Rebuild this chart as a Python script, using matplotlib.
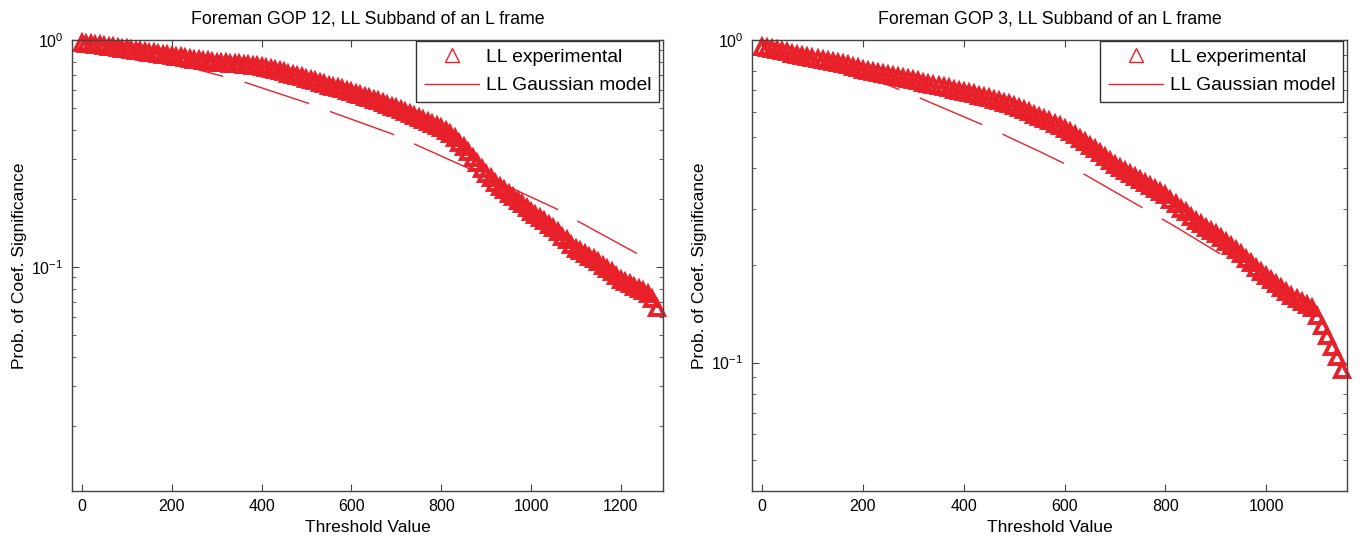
import numpy as np
import matplotlib.pyplot as plt
from matplotlib.ticker import LogLocator, NullFormatter

plt.rcParams['font.family'] = ['Liberation Sans', 'DejaVu Sans']

RED = '#e8202a'

# GOP 12: measured significance probability, thresholds 0..1280 in steps of 10
thresh_gop12 = np.arange(0, 1290, 10)
prob_gop12 = [
    0.970, 0.965, 0.958, 0.952, 0.946, 0.940, 0.935, 0.930, 0.922, 0.916,
    0.910, 0.905, 0.898, 0.892, 0.886, 0.880, 0.875, 0.868, 0.862, 0.856,
    0.850, 0.845, 0.838, 0.832, 0.826, 0.820, 0.815, 0.810, 0.805, 0.800,
    0.795, 0.792, 0.789, 0.786, 0.783, 0.780, 0.777, 0.773, 0.769, 0.765,
    0.760, 0.752, 0.745, 0.736, 0.728, 0.720, 0.711, 0.702, 0.693, 0.684,
    0.675, 0.666, 0.657, 0.648, 0.639, 0.630, 0.622, 0.614, 0.606, 0.598,
    0.590, 0.581, 0.572, 0.563, 0.554, 0.545, 0.536, 0.527, 0.518, 0.509,
    0.500, 0.491, 0.482, 0.473, 0.464, 0.455, 0.446, 0.437, 0.428, 0.419,
    0.410, 0.397, 0.384, 0.370, 0.353, 0.337, 0.320, 0.303, 0.286, 0.270,
    0.258, 0.246, 0.235, 0.226, 0.218, 0.210, 0.203, 0.196, 0.190, 0.182,
    0.175, 0.170, 0.164, 0.159, 0.153, 0.148, 0.142, 0.136, 0.131, 0.125,
    0.120, 0.117, 0.114, 0.111, 0.108, 0.105, 0.101, 0.098, 0.095, 0.091,
    0.088, 0.086, 0.084, 0.082, 0.080, 0.078, 0.076, 0.072, 0.066,
]

# GOP 12: Gaussian model curve
gauss_x_gop12 = [0, 100, 196, 314, 363, 512, 559, 690, 735, 900, 1060, 1102, 1275]
gauss_gop12 = [1.0, 0.896, 0.798, 0.692, 0.651, 0.520, 0.479, 0.386, 0.352,
               0.251, 0.179, 0.160, 0.104]

# GOP 3: measured significance probability, thresholds 0..1150 in steps of 10
thresh_gop3 = np.arange(0, 1160, 10)
prob_gop3 = [
    0.950, 0.943, 0.936, 0.929, 0.922, 0.915, 0.908, 0.901, 0.894, 0.887,
    0.880, 0.874, 0.868, 0.862, 0.856, 0.850, 0.842, 0.834, 0.826, 0.818,
    0.810, 0.804, 0.798, 0.792, 0.786, 0.780, 0.774, 0.768, 0.762, 0.756,
    0.750, 0.744, 0.738, 0.732, 0.726, 0.720, 0.714, 0.708, 0.702, 0.696,
    0.690, 0.684, 0.678, 0.672, 0.666, 0.660, 0.653, 0.646, 0.639, 0.632,
    0.625, 0.616, 0.606, 0.597, 0.587, 0.578, 0.569, 0.559, 0.550, 0.540,
    0.530, 0.518, 0.506, 0.494, 0.482, 0.470, 0.458, 0.446, 0.434, 0.422,
    0.410, 0.401, 0.393, 0.384, 0.376, 0.367, 0.360, 0.352, 0.345, 0.337,
    0.330, 0.320, 0.310, 0.300, 0.292, 0.283, 0.275, 0.269, 0.262, 0.256,
    0.250, 0.243, 0.237, 0.230, 0.223, 0.217, 0.210, 0.203, 0.197, 0.191,
    0.185, 0.180, 0.175, 0.170, 0.166, 0.161, 0.157, 0.154, 0.151, 0.148,
    0.139, 0.130, 0.121, 0.112, 0.104, 0.095,
]

# GOP 3: Gaussian model curve
gauss_x_gop3 = [0, 100, 214, 274, 313, 452, 488, 552, 605, 641, 786, 823, 933]
gauss_gop3 = [1.0, 0.888, 0.763, 0.700, 0.661, 0.534, 0.501, 0.450, 0.410,
              0.382, 0.283, 0.262, 0.206]


def draw_panel(ax, x, p, gx, gp, title, xlim, ylim):
    ax.plot(x, p, linestyle='none', marker='^', markersize=10,
            markerfacecolor='none', markeredgecolor=RED, markeredgewidth=2.8,
            label='LL experimental', clip_on=False)
    ax.plot(gx, gp, color=RED, linewidth=1.0, linestyle=(9, (49, 16)),
            label='LL Gaussian model')

    ax.set_yscale('log')
    ax.set_xlim(*xlim)
    ax.set_ylim(*ylim)
    ax.yaxis.set_major_locator(LogLocator(base=10, numticks=10))
    ax.yaxis.set_minor_locator(LogLocator(base=10, subs=np.arange(2, 10), numticks=20))
    ax.yaxis.set_minor_formatter(NullFormatter())

    ax.set_title(title, fontsize=12.8, pad=12)
    ax.set_xlabel('Threshold Value', fontsize=12.5, labelpad=4)
    ax.set_ylabel('Prob. of Coef. Significance', fontsize=12.5, labelpad=3)

    ax.tick_params(which='both', direction='in', top=True, right=True,
                   labelsize=11.5, color='#444444')
    ax.tick_params(which='major', length=5, pad=6)
    ax.tick_params(which='minor', length=3)
    for s in ax.spines.values():
        s.set_color('#444444')
        s.set_linewidth(1.0)

    # legend marker drawn thinner than the data markers
    leg = ax.legend(loc='upper right', bbox_to_anchor=(0.993, 0.998),
                    borderaxespad=0, fontsize=13.9, numpoints=1,
                    handlelength=2.9, handletextpad=0.3, borderpad=0.4,
                    labelspacing=0.55, fancybox=False, framealpha=1)
    leg.legend_handles[0].set_markeredgewidth(1.0)
    leg.get_frame().set_edgecolor('#333333')
    leg.get_frame().set_linewidth(1.0)


fig = plt.figure(figsize=(13.64, 5.42), dpi=100)
ax1 = fig.add_axes([0.0528, 0.0941, 0.4333, 0.8321])
ax2 = fig.add_axes([0.5513, 0.0941, 0.4362, 0.8321])

draw_panel(ax1, thresh_gop12, prob_gop12, gauss_x_gop12, gauss_gop12,
           'Foreman GOP 12, LL Subband of an L frame', (-22, 1294), (0.0103, 1))
draw_panel(ax2, thresh_gop3, prob_gop3, gauss_x_gop3, gauss_gop3,
           'Foreman GOP 3, LL Subband of an L frame', (-20, 1160), (0.04, 1))

fig.savefig('out.png', dpi=100)
